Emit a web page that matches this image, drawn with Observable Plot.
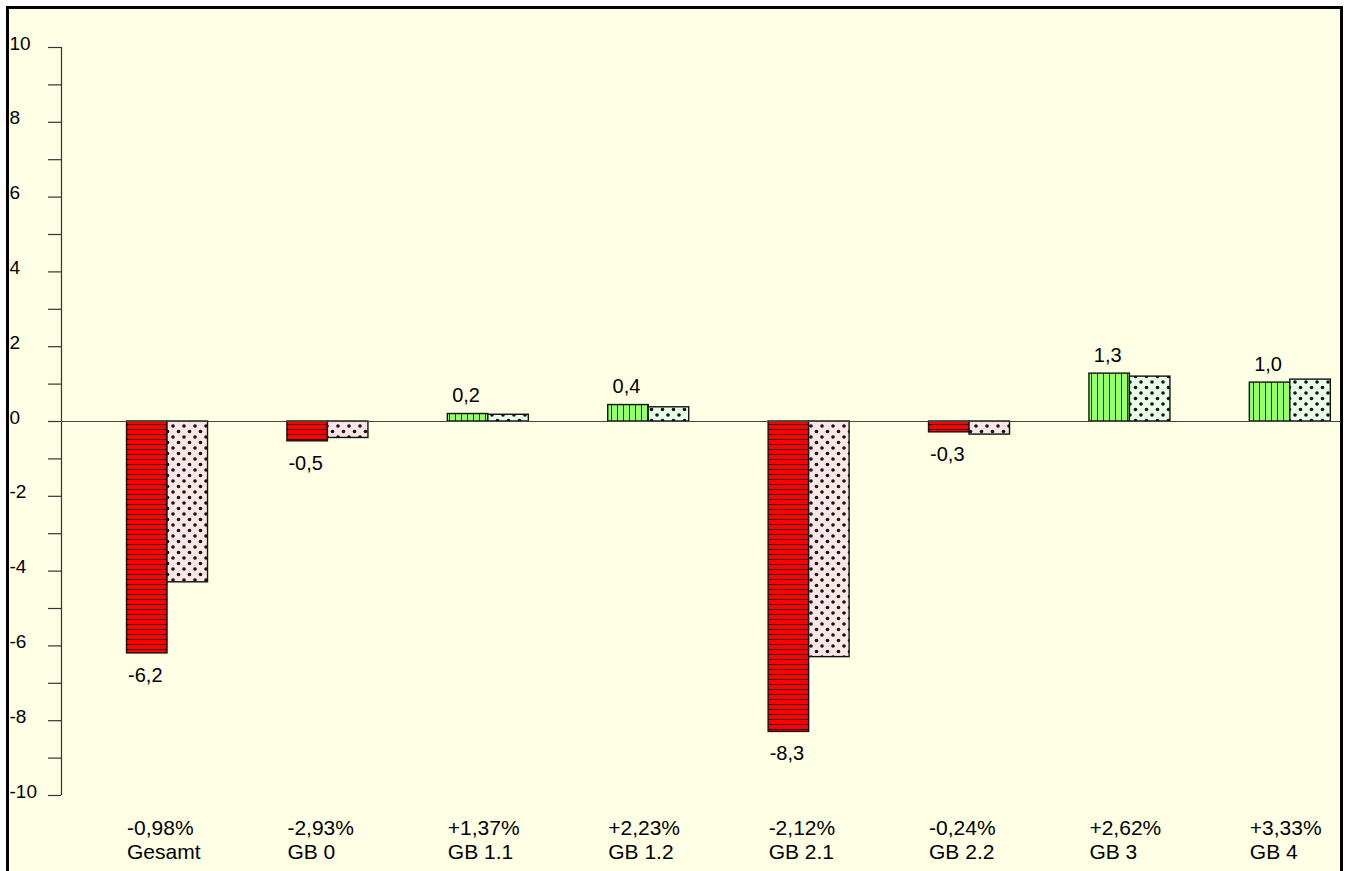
<!DOCTYPE html>
<html>
<head>
<meta charset="utf-8">
<script src="https://cdn.jsdelivr.net/npm/d3@7"></script>
<script src="https://cdn.jsdelivr.net/npm/@observablehq/plot@0.6"></script>
<style>
  html, body { margin: 0; padding: 0; background: #ffffff; }
  #wrap { position: relative; width: 1348px; height: 871px; overflow: hidden; }
  #panel { position: absolute; left: 6px; top: 6px; width: 1337px; height: 900px;
           box-sizing: border-box; background: #FFFFE5; border: 3px solid #000; border-bottom: none; }
  #chart { position: absolute; left: 0; top: 0; }
</style>
</head>
<body>
<div id="wrap"><div id="panel"></div><div id="chart"></div></div>
<script>
const categories = ["Gesamt", "GB 0", "GB 1.1", "GB 1.2", "GB 2.1", "GB 2.2", "GB 3", "GB 4"];
const changes = ["-0,98%", "-2,93%", "+1,37%", "+2,23%", "-2,12%", "-0,24%", "+2,62%", "+3,33%"];
const series1 = [-6.2, -0.53, 0.2, 0.44, -8.3, -0.29, 1.28, 1.04];
const series2 = [-4.3, -0.44, 0.18, 0.38, -6.3, -0.35, 1.2, 1.12];
const yTicks = d3.range(-10, 11, 1);
const yLabels = [10, 8, 6, 4, 2, 0, -2, -4, -6, -8, -10];

const xDomain = [-0.661, 7.319];
const w = 0.2525; // bar width in index units
const fmt = v => d3.format(".1f")(v).replace(".", ",").replace("\u2212", "-");

const rows1 = series1.map((v, i) => ({i, v}));
const rows2 = series2.map((v, i) => ({i, v}));
const font = "'Liberation Sans', Arial, sans-serif";

const svg = Plot.plot({
  width: 1348,
  height: 871,
  marginTop: 47,
  marginBottom: 76,
  marginLeft: 61,
  marginRight: 7,
  style: {background: "transparent", fontFamily: font, fontSize: "19px", color: "#000"},
  x: {type: "linear", domain: xDomain, axis: null},
  y: {domain: [-10, 10], axis: null},
  marks: [
    Plot.ruleX([xDomain[0]], {stroke: "#333", strokeWidth: 1.2}),
    Plot.axisY({ticks: yTicks, tickSize: 13, tickFormat: () => "", label: null, stroke: "#333", strokeWidth: 1.2}),
    Plot.text(yLabels, {y: d => d, text: d => String(d), frameAnchor: "left", textAnchor: "start", dx: -52, dy: -4, fill: "#000", fontSize: 19}),
    // series 1
    Plot.rectY(rows1, {filter: d => d.v < 0, x1: d => d.i - w, x2: d => d.i, y1: 0, y2: "v", fill: "url(#hred)", stroke: "#111", strokeWidth: 1.4}),
    Plot.rectY(rows1, {filter: d => d.v >= 0, x1: d => d.i - w, x2: d => d.i, y1: 0, y2: "v", fill: "url(#vgreen)", stroke: "#111", strokeWidth: 1.4}),
    // series 2
    Plot.rectY(rows2, {filter: d => d.v < 0, x1: d => d.i, x2: d => d.i + w, y1: 0, y2: "v", fill: "url(#dpink)", stroke: "#111", strokeWidth: 1.4}),
    Plot.rectY(rows2, {filter: d => d.v >= 0, x1: d => d.i, x2: d => d.i + w, y1: 0, y2: "v", fill: "url(#dgreen)", stroke: "#111", strokeWidth: 1.4}),
    Plot.ruleY([0], {stroke: "#444", strokeWidth: 1.2}),
    // value labels
    Plot.text(rows1, {filter: d => d.v >= 0, x: d => d.i - w / 2, y: "v", text: d => fmt(d.v), dx: -2, dy: -18, fill: "#000", fontSize: 20}),
    Plot.text(rows1, {filter: d => d.v < 0, x: d => d.i - w / 2, y: "v", text: d => fmt(d.v), dx: -2, dy: 22, fill: "#000", fontSize: 20}),
    // category labels
    Plot.text(categories, {x: (d, i) => i - w, text: (d, i) => changes[i] + "\n" + d, frameAnchor: "bottom",
      lineAnchor: "top", textAnchor: "start", dy: 22, lineHeight: 1.15, fill: "#000", fontSize: 21})
  ]
});

const defs = d3.select(svg).insert("defs", ":first-child");
// horizontal red stripes
const p1 = defs.append("pattern").attr("id", "hred").attr("patternUnits", "userSpaceOnUse").attr("width", 10).attr("height", 5);
p1.append("rect").attr("width", 10).attr("height", 5).attr("fill", "#FF0000");
p1.append("rect").attr("y", 4).attr("width", 10).attr("height", 1).attr("fill", "#400000");
// vertical green stripes
const p2 = defs.append("pattern").attr("id", "vgreen").attr("patternUnits", "userSpaceOnUse").attr("width", 6).attr("height", 10);
p2.append("rect").attr("width", 6).attr("height", 10).attr("fill", "#99FF66");
p2.append("rect").attr("x", 5).attr("width", 1).attr("height", 10).attr("fill", "#1F4010");
// dotted pink
const p3 = defs.append("pattern").attr("id", "dpink").attr("patternUnits", "userSpaceOnUse").attr("width", 11).attr("height", 11);
p3.append("rect").attr("width", 11).attr("height", 11).attr("fill", "#FFE6E6");
p3.append("circle").attr("cx", 2.5).attr("cy", 2.5).attr("r", 1.8).attr("fill", "#111");
p3.append("circle").attr("cx", 8).attr("cy", 8).attr("r", 1.8).attr("fill", "#111");
// dotted light green
const p4 = defs.append("pattern").attr("id", "dgreen").attr("patternUnits", "userSpaceOnUse").attr("width", 11).attr("height", 11);
p4.append("rect").attr("width", 11).attr("height", 11).attr("fill", "#E6FFE6");
p4.append("circle").attr("cx", 2.5).attr("cy", 2.5).attr("r", 1.8).attr("fill", "#111");
p4.append("circle").attr("cx", 8).attr("cy", 8).attr("r", 1.8).attr("fill", "#111");

document.getElementById("chart").appendChild(svg);
</script>
</body>
</html>
